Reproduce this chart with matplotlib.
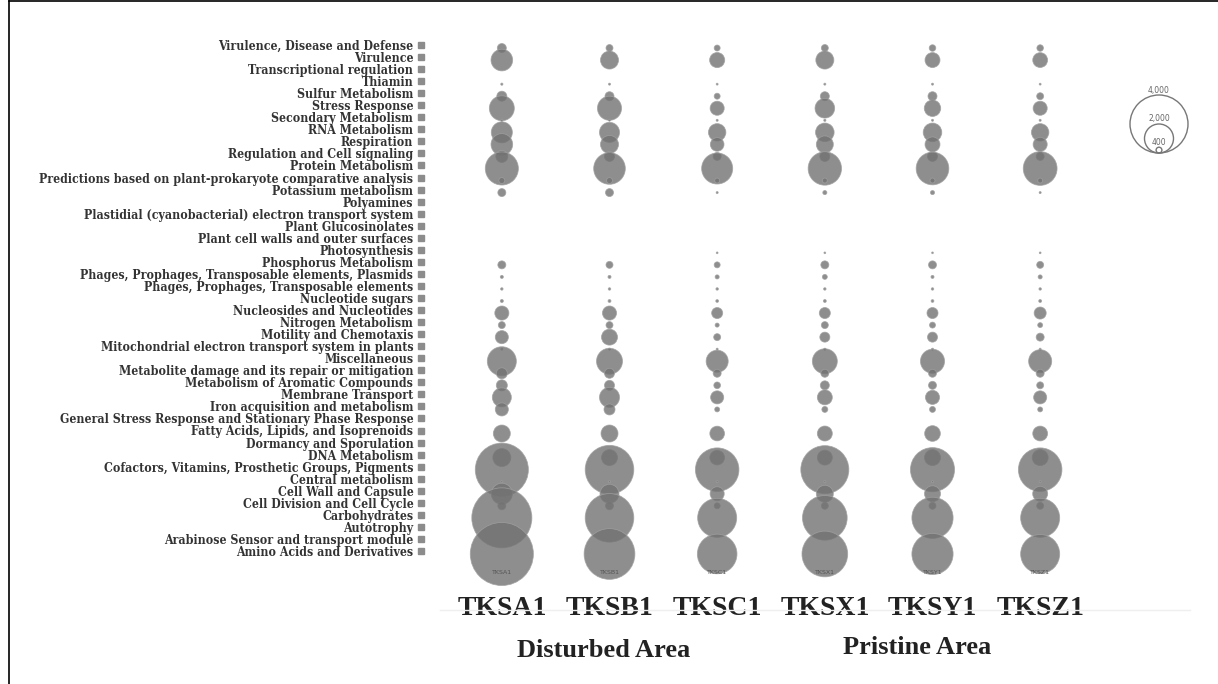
import numpy as np
import matplotlib.pyplot as plt
from matplotlib.lines import Line2D
from matplotlib.patches import Circle

# categorias SEED (de arriba a abajo)
categories = [
    'Virulence, Disease and Defense', 'Virulence', 'Transcriptional regulation',
    'Thiamin', 'Sulfur Metabolism', 'Stress Response', 'Secondary Metabolism',
    'RNA Metabolism', 'Respiration', 'Regulation and Cell signaling',
    'Protein Metabolism', 'Predictions based on plant-prokaryote comparative analysis',
    'Potassium metabolism', 'Polyamines',
    'Plastidial (cyanobacterial) electron transport system', 'Plant Glucosinolates',
    'Plant cell walls and outer surfaces', 'Photosynthesis', 'Phosphorus Metabolism',
    'Phages, Prophages, Transposable elements, Plasmids',
    'Phages, Prophages, Transposable elements', 'Nucleotide sugars',
    'Nucleosides and Nucleotides', 'Nitrogen Metabolism', 'Motility and Chemotaxis',
    'Mitochondrial electron transport system in plants', 'Miscellaneous',
    'Metabolite damage and its repair or mitigation', 'Metabolism of Aromatic Compounds',
    'Membrane Transport', 'Iron acquisition and metabolism',
    'General Stress Response and Stationary Phase Response',
    'Fatty Acids, Lipids, and Isoprenoids', 'Dormancy and Sporulation', 'DNA Metabolism',
    'Cofactors, Vitamins, Prosthetic Groups, Pigments', 'Central metabolism',
    'Cell Wall and Capsule', 'Cell Division and Cell Cycle', 'Carbohydrates',
    'Autotrophy', 'Arabinose Sensor and transport module', 'Amino Acids and Derivatives',
]

samples = ['TKSA1', 'TKSB1', 'TKSC1', 'TKSX1', 'TKSY1', 'TKSZ1']

# numero de lecturas por categoria y muestra
tksa1 = [620, 1490, 0, 150, 690, 1720, 150, 1450, 1490, 830, 2280, 410, 550, 0, 0, 0, 0, 0,
         550, 210, 170, 210, 970, 480, 900, 140, 2000, 760, 760, 1310, 900, 0, 1170, 0, 1240,
         3660, 140, 1450, 550, 4140, 0, 0, 4350]
tksb1 = [480, 1240, 0, 140, 620, 1660, 130, 1380, 1240, 690, 2180, 410, 550, 0, 0, 0, 0, 0,
         480, 210, 170, 200, 970, 480, 1100, 140, 1790, 690, 690, 1380, 760, 0, 1170, 0, 1100,
         3350, 140, 1310, 550, 3350, 0, 0, 3500]
tksc1 = [410, 1040, 0, 130, 410, 970, 140, 1200, 940, 550, 2140, 340, 140, 0, 0, 0, 0, 120,
         410, 280, 170, 190, 760, 280, 480, 140, 1520, 550, 460, 900, 340, 0, 1010, 0, 1010,
         3000, 140, 970, 410, 2690, 0, 0, 2730]
tksx1 = [480, 1240, 0, 140, 620, 1350, 150, 1280, 1170, 690, 2300, 340, 280, 0, 0, 0, 0, 120,
         550, 340, 170, 200, 760, 480, 690, 140, 1720, 550, 620, 1030, 410, 0, 1030, 0, 1030,
         3310, 140, 1170, 480, 3080, 0, 0, 3150]
tksy1 = [450, 1030, 0, 140, 620, 1130, 140, 1280, 1030, 690, 2250, 340, 280, 0, 0, 0, 0, 120,
         550, 210, 170, 190, 760, 410, 690, 140, 1660, 550, 550, 970, 410, 0, 1080, 0, 1100,
         3040, 140, 1100, 480, 2840, 0, 0, 2840]
tksz1 = [450, 1020, 0, 130, 480, 970, 140, 1200, 970, 550, 2330, 340, 140, 0, 0, 0, 0, 120,
         480, 280, 170, 200, 830, 340, 550, 140, 1590, 550, 480, 900, 340, 0, 1020, 0, 1100,
         3000, 140, 1030, 480, 2690, 0, 0, 2690]

legend_values = [4000, 2000, 400]

W, H = 1218, 684
DPI = 100
fig = plt.figure(figsize=(W / DPI, H / DPI), dpi=DPI)
fig.patch.set_facecolor('white')

# radio en pixeles proporcional al valor
px_per_read = 29 / 4000


def area_pts(v):
    r = np.asarray(v, dtype=float) * px_per_read
    return (2 * r * 72 / DPI) ** 2


ax = fig.add_axes([448 / W, 1 - 560 / H, 646 / W, 518 / H])
ax.set_xlim(-0.5, len(samples) - 0.5)
ax.set_ylim(len(categories) - 0.5, -0.5)
for s in ax.spines.values():
    s.set_visible(False)

rows = np.arange(len(categories))
table = [tksa1, tksb1, tksc1, tksx1, tksy1, tksz1]
for j, vals in enumerate(table):
    vals = np.array(vals)
    ok = vals > 0
    ax.scatter(np.full(ok.sum(), j), rows[ok], s=area_pts(vals[ok]),
               facecolor='#727272', edgecolor='#a0a0a0', linewidth=0.6,
               alpha=0.8, zorder=3, clip_on=False)
    ax.annotate(samples[j], xy=(j, rows[-1]), xytext=(0, -13), textcoords='offset points',
                ha='center', va='center', fontsize=4.5, color='#555555', zorder=5)

# etiquetas de categoria con su cuadradito
label_rows = rows - 0.25
ax.set_yticks(label_rows)
ax.set_yticklabels(categories, fontfamily='DejaVu Serif', fontweight='bold',
                   fontstretch='condensed', fontsize=8.85, color='#333333')
ax.tick_params(axis='y', length=0, pad=25)
ax.plot(np.full(len(rows), -0.042), label_rows, 's', color='#8c8c8c', markersize=5,
        transform=ax.get_yaxis_transform(), clip_on=False)

ax.set_xticks(range(len(samples)))
ax.set_xticklabels(samples, fontfamily='Liberation Serif', fontweight='bold',
                   fontsize=20, color='#222222')
ax.tick_params(axis='x', length=0, pad=26)

# zonas de muestreo
ax.annotate('Disturbed Area', xy=(0.95, 0), xycoords=('data', 'axes fraction'),
            xytext=(0, -65), textcoords='offset points', ha='center', va='center',
            fontfamily='Liberation Serif', fontweight='bold', fontsize=19, color='#222222')
ax.annotate('Pristine Area', xy=(3.86, 0), xycoords=('data', 'axes fraction'),
            xytext=(0, -63), textcoords='offset points', ha='center', va='center',
            fontfamily='Liberation Serif', fontweight='bold', fontsize=19, color='#222222')

# leyenda de tamanos
lax = fig.add_axes([1120 / W, 1 - 160 / H, 80 / W, 80 / H])
lax.set_xlim(-40, 40)
lax.set_ylim(-7, 73)
lax.axis('off')
for v in legend_values:
    r = v * px_per_read
    lax.add_patch(Circle((-1, r), r, facecolor='none', edgecolor='#777777', linewidth=1.0))
    lax.text(-1, 2 * r + 5, f'{v:,}', ha='center', va='center', fontsize=5.5, color='#666666')

# marco y linea tenue
fig.add_artist(Line2D([9 / W, 9 / W], [0, 1 - 1 / H], color='black', linewidth=1.2))
fig.add_artist(Line2D([9 / W, 1], [1 - 1 / H, 1 - 1 / H], color='black', linewidth=1.2))
fig.add_artist(Line2D([440 / W, 1190 / W], [1 - 610 / H, 1 - 610 / H], color='#efefef',
                      linewidth=1))

fig.savefig('out.png', dpi=DPI, facecolor='white')
